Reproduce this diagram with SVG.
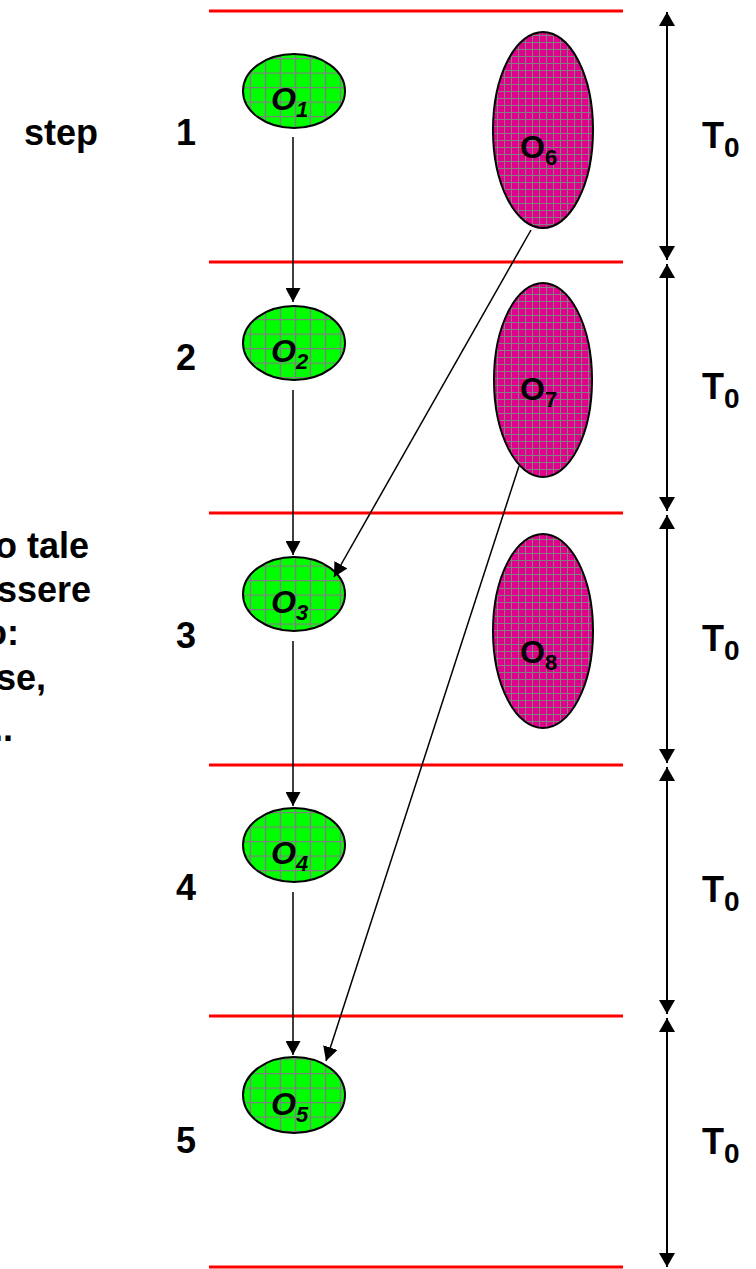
<svg xmlns="http://www.w3.org/2000/svg" width="756" height="1269" viewBox="0 0 756 1269">
<style>
.red{stroke:#FF0000;stroke-width:3;fill:none}
.g{fill:url(#gridG);stroke:#000;stroke-width:2}
.m{fill:url(#gridM);stroke:#000;stroke-width:2}
.lbl{font-family:"Liberation Sans",Arial,sans-serif;font-weight:bold;fill:#000}
.gl{font-style:italic}
.conn{stroke:#000;stroke-width:1.5;fill:none;marker-end:url(#ah)}
.dbl{stroke:#000;stroke-width:2;fill:none;marker-start:url(#ah2);marker-end:url(#ah2)}
</style>
<defs>
<pattern id="gridG" patternUnits="userSpaceOnUse" width="15" height="14.5" x="243" y="0">
<rect width="15" height="14.5" fill="#00FF00"/>
<path d="M0,0.6H15M7.5,0V14.5" stroke="#808080" stroke-width="1.4" fill="none"/>
</pattern>
<pattern id="gridM" patternUnits="userSpaceOnUse" width="7" height="7">
<rect width="7" height="7" fill="#E0008C"/>
<path d="M0,0.5H7M0.5,0V7" stroke="#808080" stroke-width="1.1" fill="none"/>
</pattern>
<marker id="ah" markerUnits="userSpaceOnUse" markerWidth="15" markerHeight="15" refX="14" refY="7.5" orient="auto">
<path d="M0,0L14,7.5L0,15z" fill="#000"/>
</marker>
<marker id="ah2" markerUnits="userSpaceOnUse" markerWidth="15" markerHeight="16" refX="14" refY="8" orient="auto-start-reverse">
<path d="M0,0L14,8L0,16z" fill="#000"/>
</marker>
</defs>
<rect width="756" height="1269" fill="#fff"/>

<g id="timelines">
<line class="red" x1="209" y1="11" x2="623" y2="11"/>
<line class="red" x1="209" y1="262" x2="623" y2="262"/>
<line class="red" x1="209" y1="513" x2="623" y2="513"/>
<line class="red" x1="209" y1="765" x2="623" y2="765"/>
<line class="red" x1="209" y1="1016" x2="623" y2="1016"/>
<line class="red" x1="209" y1="1267" x2="623" y2="1267"/>
</g>

<g id="left-text" class="lbl" font-size="36" text-anchor="end">
<text x="98" y="145">step</text>
<text x="89" y="558">o tale</text>
<text x="91" y="602">ssere</text>
<text x="19" y="645">o:</text>
<text x="46" y="690">se,</text>
<text x="13" y="741">..</text>
</g>

<g id="steps" class="lbl" font-size="36" text-anchor="middle">
<text x="186" y="145">1</text>
<text x="186" y="370">2</text>
<text x="186" y="648">3</text>
<text x="186" y="900">4</text>
<text x="186" y="1153">5</text>
</g>

<g id="O1"><ellipse class="g" cx="294" cy="91" rx="51" ry="37"/><text class="lbl gl" x="271" y="110" font-size="32">O<tspan font-size="22" dy="7">1</tspan></text></g>
<g id="O2"><ellipse class="g" cx="294" cy="343" rx="51" ry="37"/><text class="lbl gl" x="271" y="362" font-size="32">O<tspan font-size="22" dy="7">2</tspan></text></g>
<g id="O3"><ellipse class="g" cx="294" cy="594" rx="51" ry="37"/><text class="lbl gl" x="271" y="613" font-size="32">O<tspan font-size="22" dy="7">3</tspan></text></g>
<g id="O4"><ellipse class="g" cx="294" cy="845" rx="51" ry="37"/><text class="lbl gl" x="271" y="864" font-size="32">O<tspan font-size="22" dy="7">4</tspan></text></g>
<g id="O5"><ellipse class="g" cx="294" cy="1095" rx="51" ry="38"/><text class="lbl gl" x="271" y="1115" font-size="32">O<tspan font-size="22" dy="7">5</tspan></text></g>

<g id="O6"><ellipse class="m" cx="543" cy="130" rx="50" ry="98"/><text class="lbl" x="520" y="158" font-size="32">O<tspan font-size="22" dy="7">6</tspan></text></g>
<g id="O7"><ellipse class="m" cx="543" cy="380" rx="49" ry="97"/><text class="lbl" x="520" y="400" font-size="32">O<tspan font-size="22" dy="7">7</tspan></text></g>
<g id="O8"><ellipse class="m" cx="543" cy="631" rx="50" ry="97"/><text class="lbl" x="520" y="663" font-size="32">O<tspan font-size="22" dy="7">8</tspan></text></g>

<g id="durations" class="lbl" font-size="36">
<text x="702" y="148">T<tspan font-size="28" dy="9">0</tspan></text>
<text x="702" y="399">T<tspan font-size="28" dy="9">0</tspan></text>
<text x="702" y="651">T<tspan font-size="28" dy="9">0</tspan></text>
<text x="702" y="902">T<tspan font-size="28" dy="9">0</tspan></text>
<text x="702" y="1154">T<tspan font-size="28" dy="9">0</tspan></text>
</g>

<g id="connectors">
<line class="conn" x1="293" y1="137" x2="293" y2="302"/>
<line class="conn" x1="293" y1="390" x2="293" y2="555"/>
<line class="conn" x1="293" y1="641" x2="293" y2="806"/>
<line class="conn" x1="293" y1="892" x2="293" y2="1055"/>
<line class="conn" x1="531" y1="230" x2="334" y2="577"/>
<line class="conn" x1="519" y1="466" x2="326" y2="1061"/>
<line class="dbl" x1="667" y1="12" x2="667" y2="260"/>
<line class="dbl" x1="667" y1="264" x2="667" y2="511"/>
<line class="dbl" x1="667" y1="515" x2="667" y2="763"/>
<line class="dbl" x1="667" y1="767" x2="667" y2="1014"/>
<line class="dbl" x1="667" y1="1018" x2="667" y2="1267"/>
</g>
</svg>
